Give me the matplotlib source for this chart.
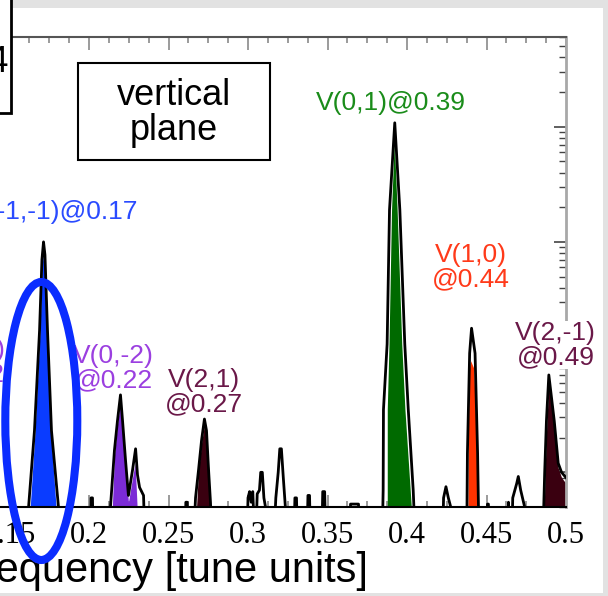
import matplotlib
matplotlib.use('Agg')
import matplotlib.pyplot as plt
import numpy as np

from matplotlib.patches import Ellipse, Rectangle
from matplotlib.ticker import MultipleLocator, FormatStrFormatter

# total spectrum outline (frequency in tune units, amplitude)
freq = [0.150, 0.1615, 0.1620, 0.1657, 0.1689, 0.1704, 0.1714, 0.1723, 0.1739, 0.1764, 0.1808, 0.1815,
        0.2010, 0.2013, 0.2022, 0.2025,
        0.2130, 0.2135, 0.2160, 0.2179, 0.2198, 0.2211, 0.2230, 0.2248, 0.2274, 0.2293, 0.2305, 0.2318,
        0.2343, 0.2350,
        0.2606, 0.2609, 0.2618, 0.2621,
        0.2660, 0.2670, 0.2689, 0.2708, 0.2726, 0.2739, 0.2752, 0.2764, 0.2772,
        0.2995, 0.3000, 0.3010, 0.3020, 0.3030, 0.3040,
        0.3050, 0.3058, 0.3072, 0.3080, 0.3090, 0.3100, 0.3110, 0.3116,
        0.3165, 0.3175, 0.3190, 0.3200, 0.3210, 0.3222, 0.3235, 0.3242,
        0.3290, 0.3295, 0.3305, 0.3310, 0.3372, 0.3377, 0.3387, 0.3392,
        0.3465, 0.3470, 0.3482, 0.3488, 0.3640, 0.3645, 0.3695, 0.3700,
        0.3845, 0.3850, 0.3852, 0.3875, 0.3890, 0.3923, 0.3955, 0.3986, 0.4008, 0.4039, 0.4050,
        0.4225, 0.4230, 0.4245, 0.4260, 0.4275, 0.4280,
        0.4376, 0.4380, 0.4394, 0.4406, 0.4428, 0.4444, 0.4452,
        0.4504, 0.4506, 0.4512, 0.4515,
        0.4635, 0.4638, 0.4645, 0.4660, 0.4665, 0.4690, 0.4700, 0.4715, 0.4740, 0.4745,
        0.4852, 0.4860, 0.4866, 0.4877, 0.4892, 0.4926, 0.4951, 0.4972, 0.5000]
amp = [3e-5, 3e-5, 5e-5, 2.3e-4, 1.7e-3, 7.0e-3, 1.0e-2, 7.7e-3, 1.7e-3, 2.3e-4, 5e-5, 3e-5,
       3e-5, 6e-5, 6e-5, 3e-5,
       3e-5, 5e-5, 1.55e-4, 2.8e-4, 4.7e-4, 2.8e-4, 1.26e-4, 6.3e-5, 1.05e-4, 1.6e-4, 9.5e-5, 7.4e-5,
       6.3e-5, 3e-5,
       3e-5, 5.5e-5, 5.5e-5, 3e-5,
       3e-5, 6e-5, 1.05e-4, 1.9e-4, 2.9e-4, 2.3e-4, 1.05e-4, 5.5e-5, 3e-5,
       3e-5, 6e-5, 6.8e-5, 5.5e-5, 6.8e-5, 3e-5,
       3e-5, 6.5e-5, 7e-5, 1.0e-4, 1.0e-4, 6e-5, 5e-5, 3e-5,
       3e-5, 6e-5, 1.0e-4, 1.6e-4, 1.6e-4, 9e-5, 5e-5, 3e-5,
       3e-5, 6e-5, 6e-5, 3e-5, 3e-5, 6.3e-5, 6.3e-5, 3e-5,
       3e-5, 6.8e-5, 6.8e-5, 3e-5, 3e-5, 5.3e-5, 5.3e-5, 3e-5,
       3e-5, 7e-5, 3.5e-4, 1.3e-3, 1.9e-2, 1.08e-1, 1.9e-2, 1.3e-3, 3.5e-4, 7e-5, 3e-5,
       3e-5, 6e-5, 7.5e-5, 6e-5, 5e-5, 3e-5,
       3e-5, 1.46e-4, 1.08e-3, 1.78e-3, 1.08e-3, 1.46e-4, 3e-5,
       3e-5, 5.3e-5, 5.3e-5, 3e-5,
       3e-5, 5.5e-5, 3e-5, 3e-5, 6e-5, 8e-5, 9.2e-5, 7e-5, 5e-5, 3e-5,
       3e-5, 5e-5, 1.0e-4, 2.8e-4, 7.0e-4, 2.8e-4, 1.2e-4, 1.0e-4, 9e-5]

# identified lines: filled components
blue_f = [0.1620, 0.1660, 0.1691, 0.1706, 0.1714, 0.1721, 0.1737, 0.1760, 0.1804]
blue_a = [3e-5, 2.2e-4, 1.6e-3, 6.5e-3, 8.0e-3, 6.5e-3, 1.6e-3, 2.2e-4, 3e-5]
purple_f = [0.2140, 0.2160, 0.2179, 0.2198, 0.2211, 0.2230, 0.2248, 0.2274, 0.2290, 0.2300, 0.2310]
purple_a = [3e-5, 1.4e-4, 2.6e-4, 4.2e-4, 2.6e-4, 1.1e-4, 5.5e-5, 9e-5, 1.2e-4, 6e-5, 3e-5]
v21_f = [0.2668, 0.2688, 0.2708, 0.2726, 0.2740, 0.2754, 0.2764]
v21_a = [3e-5, 1.0e-4, 1.8e-4, 2.6e-4, 2.0e-4, 1.0e-4, 3e-5]
green_f = [0.3879, 0.3879, 0.3890, 0.3906, 0.3923, 0.3941, 0.3970, 0.3990, 0.4030, 0.4034]
green_a = [3e-5, 3.5e-4, 1.3e-3, 1.9e-2, 7.5e-2, 1.9e-2, 1.3e-3, 3.5e-4, 5e-5, 3e-5]
red_f = [0.4383, 0.4385, 0.4393, 0.4400, 0.4420, 0.4436, 0.4440]
red_a = [3e-5, 2e-4, 8e-4, 9.3e-4, 8e-4, 2e-4, 3e-5]
v2m1_f = [0.4860, 0.4868, 0.4879, 0.4892, 0.4924, 0.4950, 0.4972, 0.5000]
v2m1_a = [3e-5, 1.0e-4, 2.6e-4, 6e-4, 2.6e-4, 1.1e-4, 9e-5, 8e-5]

fills = [(blue_f, blue_a, '#0a3cff'), (purple_f, purple_a, '#7b2bd6'), (v21_f, v21_a, '#3a0010'),
         (green_f, green_a, '#006a00'), (red_f, red_a, '#ff3300'), (v2m1_f, v2m1_a, '#3a0010')]

# line labels
label_text = ['V(-2,0)\n@0.12', 'V(-1,-1)@0.17', 'V(0,-2)\n@0.22', 'V(2,1)\n@0.27',
              'V(0,1)@0.39', 'V(1,0)\n@0.44', 'V(2,-1)\n@0.49']
label_f = [0.1223, 0.2311, 0.2154, 0.2720, 0.3896, 0.4399, 0.4934]
label_a = [9.1e-4, 1.82e-2, 8.0e-4, 4.97e-4, 0.162, 6.07e-3, 1.27e-3]
label_ha = ['center', 'right', 'center', 'center', 'center', 'center', 'center']
label_color = ['#9b3fe0', '#2a4bff', '#9b3fe0', '#6a1848', '#1a8c1a', '#ff3a1a', '#6a1848']

sans = 'Liberation Sans'
serif = 'Liberation Serif'

W, H = 608, 596
fig = plt.figure(figsize=(W / 100, H / 100), dpi=100)
fig.patch.set_facecolor('#e2e2e2')
fig.add_artist(Rectangle((0, 3 / H), 603 / W, 1 - 11 / H, transform=fig.transFigure,
                         facecolor='white', edgecolor='none', zorder=-10))

# axes: x from 0 to 0.5, left part cropped out of view
ax = fig.add_axes([-229 / W, 89 / H, 795 / W, 470 / H])
ax.patch.set_alpha(0)
ax.set_xlim(0, 0.5)
ax.set_yscale('log')
ax.set_ylim(5e-5, 0.6)

for f, a, c in fills:
    ax.fill_between(f, a, 1e-7, color=c, lw=0, zorder=2)
ax.plot(freq, amp, color='black', lw=2.0, zorder=3)

for t, f, a, ha, c in zip(label_text, label_f, label_a, label_ha, label_color):
    kw = {}
    if t.startswith('V(2,-1)'):
        kw['bbox'] = dict(facecolor='white', edgecolor='none', pad=0)
    ax.text(f, a, t, color=c, ha=ha, va='center', ma='center', fontsize=19,
            family=sans, linespacing=1.0, zorder=5, **kw)

ax.xaxis.set_major_locator(MultipleLocator(0.05))
ax.xaxis.set_minor_locator(MultipleLocator(0.0125))
ax.xaxis.set_major_formatter(FormatStrFormatter('%g'))
ax.tick_params(axis='x', which='both', direction='in', top=True, bottom=True, color='#8a8a8a',
               labelsize=22, pad=10)
ax.tick_params(axis='x', which='major', length=9, width=1.2)
ax.tick_params(axis='x', which='minor', length=4.5, width=1.2)
ax.yaxis.tick_right()
ax.tick_params(axis='y', which='both', direction='in', right=True, left=False, labelright=False,
               color='#444444')
ax.tick_params(axis='y', which='major', length=9, width=1.2)
ax.tick_params(axis='y', which='minor', length=5, width=1.0)
for lab in ax.get_xticklabels():
    lab.set_family(serif)

ax.spines['top'].set_color('#555555')
ax.spines['top'].set_linewidth(1.5)
ax.spines['right'].set_color('#a8a8a8')
ax.spines['right'].set_linewidth(2)
ax.spines['bottom'].set_color('black')
ax.spines['bottom'].set_linewidth(1.5)
ax.spines['left'].set_visible(False)

ax.set_xlabel('frequency [tune units]', fontsize=30, family=sans, labelpad=1)

# "vertical plane" box
ax.add_patch(Rectangle((78 / W, 1 - 160 / H), 192 / W, 97 / H, transform=fig.transFigure,
                       facecolor='white', edgecolor='black', lw=1.5, zorder=6))
fig.text(174 / W, 1 - 113 / H, 'vertical\nplane', ha='center', va='center', ma='center',
         fontsize=26, family=sans, linespacing=1.0, zorder=7)

# cut-off info box at top left
fig.add_artist(Rectangle((-200 / W, 1 - 113 / H), 211 / W, 140 / H, transform=fig.transFigure,
                         facecolor='white', edgecolor='black', lw=2, zorder=6, clip_on=False))
fig.text(8 / W, 1 - 62 / H, 'MD block 4', ha='right', va='center', fontsize=26, family=sans,
         zorder=7)

# highlight ellipse around the V(-1,-1) line
fig.canvas.draw()
cx = fig.transFigure.inverted().transform(ax.transData.transform((0.17, 1e-3)))[0]
fig.add_artist(Ellipse((cx, 1 - 421 / H), 72 / W, 278 / H, transform=fig.transFigure,
                       facecolor='none', edgecolor='#0a2cff', lw=5.8, zorder=10, clip_on=False))

fig.savefig('out.png', dpi=100)
